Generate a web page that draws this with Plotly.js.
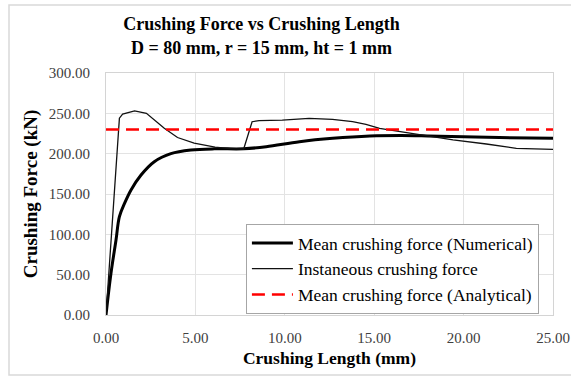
<!DOCTYPE html>
<html>
<head>
<meta charset="utf-8">
<script src="https://cdn.plot.ly/plotly-3.0.1.min.js"></script>
<style>
  html, body { margin: 0; padding: 0; background: #fff; }
  #chart { width: 571px; height: 376px; }
</style>
</head>
<body>
<div id="chart"></div>
<script>
// Mean crushing force from the simulation (kN) vs crushing length (mm)
const meanLength = [0, 0.28, 0.56, 0.75, 1.03, 1.4, 1.96, 2.7, 3.63, 4.75, 6.06, 7.7, 8.96, 10.82, 12.68, 14.76, 16.5, 18, 20, 22, 25];
const meanForce  = [0, 52, 93, 122, 138, 155, 173.5, 190, 200, 204.5, 206, 206, 208.6, 214.8, 219, 221.9, 222.5, 222, 221, 220, 219];

// Instantaneous crushing force (kN)
const instLength = [0, 0.75, 0.93, 1.6, 2.26, 2.7, 3.26, 4.0, 4.93, 6.1, 7.08, 7.7, 8.17, 8.56, 9.86, 11.36, 12.67, 13.79, 14.54, 15.3, 15.88, 17.74, 19.41, 21.27, 22.95, 25];
const instForce  = [0, 244, 249, 253, 250, 242, 231.5, 220, 213, 208, 206, 205.8, 239.6, 241, 241.7, 243.8, 242.6, 239.6, 236.4, 231.4, 229.3, 223.1, 217, 212, 206.6, 205.4];

// Analytical mean crushing force (kN)
const analyticLength = [0, 25];
const analyticForce  = [230, 230];

const serif = 'Liberation Serif, Times New Roman, serif';

const traces = [
  {
    x: meanLength, y: meanForce, type: 'scatter', mode: 'lines',
    name: 'Mean crushing force (Numerical)',
    line: { color: '#000000', width: 3, shape: 'spline', smoothing: 1 }
  },
  {
    x: instLength, y: instForce, type: 'scatter', mode: 'lines',
    name: 'Instaneous crushing force',
    line: { color: '#111111', width: 1.3 }
  },
  {
    x: analyticLength, y: analyticForce, type: 'scatter', mode: 'lines',
    name: 'Mean crushing force (Analytical)',
    line: { color: '#ff0000', width: 2.5, dash: '13px,7px' }
  }
];

const layout = {
  width: 571, height: 376,
  paper_bgcolor: '#ffffff', plot_bgcolor: '#ffffff',
  margin: { l: 106, r: 18, t: 73, b: 61 },
  font: { family: serif, color: '#000000' },
  title: {
    text: 'Crushing Force vs Crushing Length<br>D = 80 mm, r = 15 mm, ht = 1 mm',
    font: { family: serif, size: 18, weight: 'bold', color: '#000000' },
    xref: 'container', x: 0.458, xanchor: 'center',
    yref: 'container', y: 0.919, yanchor: 'top'
  },
  xaxis: {
    range: [0, 25], dtick: 5, tick0: 0, tickformat: '.2f',
    showgrid: true, gridcolor: '#e3e3e3', gridwidth: 1,
    showline: true, linecolor: '#d4d4d4', linewidth: 1, mirror: true,
    zeroline: false, ticks: '', ticklabelstandoff: 9,
    tickfont: { family: serif, size: 15, color: '#404040' },
    title: { text: 'Crushing Length (mm)', standoff: 6,
             font: { family: serif, size: 17.5, weight: 'bold', color: '#000000' } }
  },
  yaxis: {
    range: [0, 300], dtick: 50, tick0: 0, tickformat: '.2f',
    showgrid: true, gridcolor: '#e3e3e3', gridwidth: 1,
    showline: true, linecolor: '#d4d4d4', linewidth: 1, mirror: true,
    zeroline: false, ticks: '', ticklabelstandoff: 12,
    tickfont: { family: serif, size: 15, color: '#404040' },
    title: { text: 'Crushing Force (kN)', standoff: 6,
             font: { family: serif, size: 19, weight: 'bold', color: '#000000' } }
  },
  legend: {
    x: 0.313, xanchor: 'left', y: 0.376, yanchor: 'top',
    bgcolor: '#ffffff', bordercolor: '#a6a6a6', borderwidth: 1,
    font: { family: serif, size: 17.5, color: '#000000' },
    tracegroupgap: 0, itemwidth: 41
  },
  showlegend: true,
  shapes: [
    // light frame around the whole chart area
    { type: 'rect', xref: 'paper', yref: 'paper',
      x0: (9 - 106) / 447, x1: (575 - 106) / 447,
      y0: (315 - 375) / 242, y1: (315 - 5) / 242,
      line: { color: '#d9d9d9', width: 1.5 }, fillcolor: 'rgba(0,0,0,0)', layer: 'below' }
  ]
};

Plotly.newPlot('chart', traces, layout, { displayModeBar: false, staticPlot: true });
</script>
</body>
</html>
